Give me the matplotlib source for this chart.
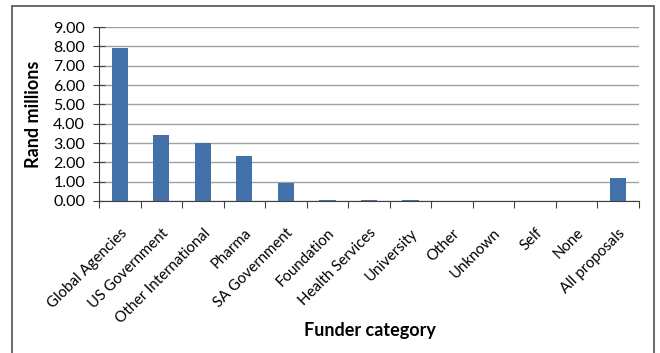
import matplotlib
matplotlib.use("Agg")
import matplotlib.pyplot as plt
from matplotlib.patches import Rectangle
import numpy as np

# funding per funder category, rand millions
categories = ["Global Agencies", "US Government", "Other International", "Pharma",
              "SA Government", "Foundation", "Health Services", "University",
              "Other", "Unknown", "Self", "None", "All proposals"]
values = [7.93, 3.40, 2.98, 2.34, 0.95, 0.07, 0.06, 0.06, 0.02, 0.0, 0.0, 0.0, 1.17]
yticks = np.arange(0, 10, 1)

plt.rcParams['font.family'] = ['Lato', 'DejaVu Sans']

fig = plt.figure(figsize=(6.6, 3.53), dpi=100)
ax = fig.add_axes([0.15, 0.4306, 0.818, 0.4929])

x = np.arange(len(categories))
ax.bar(x, values, width=0.39, color="#4171A8", zorder=3)

ax.set_xlim(-0.5, len(categories) - 0.5)
ax.set_ylim(0, 9)
ax.set_yticks(yticks)
ax.set_yticklabels(["{:.2f}".format(v) for v in yticks], fontsize=11.5)
ax.yaxis.grid(True, color="#A0A0A0", lw=1, zorder=0)

# category boundary ticks on the x axis, labels centred under the bars
ax.set_xticks(np.arange(-0.5, len(categories) + 0.5, 1), minor=False)
ax.set_xticklabels([])
ax.set_xticks(x, minor=True)
ax.set_xticklabels(categories, minor=True, rotation=45, ha='right',
                   rotation_mode='anchor', fontsize=10.8)
ax.tick_params(axis='x', which='minor', length=0, pad=18)
ax.tick_params(axis='x', which='major', length=5, color="#404040", direction='out')
ax.tick_params(axis='y', length=8, color="#404040", direction='inout', pad=6)

for side in ['top', 'right']:
    ax.spines[side].set_visible(False)
ax.spines['left'].set_color("#404040")
ax.spines['bottom'].set_color("#404040")

ax.set_ylabel("Rand millions", fontsize=13, fontweight='bold', labelpad=8)
fig.text(0.56, 0.065, "Funder category", ha='center', va='center',
         fontsize=13, fontweight='bold')

# chart border
fig.patches.append(Rectangle((12 / 660, -0.05), 642 / 660, 1.05 - 6 / 353,
                             transform=fig.transFigure, fill=False,
                             edgecolor="#505050", lw=1.2))

fig.savefig("out.png", dpi=100)
